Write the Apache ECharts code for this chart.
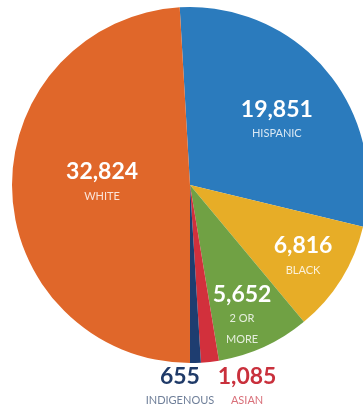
<!DOCTYPE html>
<html>
<head>
<meta charset="utf-8">
<script src="https://cdn.jsdelivr.net/npm/echarts@6/dist/echarts.min.js"></script>
<style>
  html, body { margin: 0; padding: 0; background: #ffffff; }
  #chart { width: 363px; height: 407px; }
</style>
</head>
<body>
<div id="chart"></div>
<script>
// Enrollment by race / ethnicity
const categories = ['HISPANIC', 'BLACK', '2 OR\nMORE', 'ASIAN', 'INDIGENOUS', 'WHITE'];
const values = [19851, 6816, 5652, 1085, 655, 32824];
const sliceColors = ['#2b7bbd', '#e7ad27', '#70a144', '#d2303c', '#1e3d70', '#e0672a'];

// label styling per slice (inside labels are white, outside labels take the slice colour)
const numberColors = ['#ffffff', '#ffffff', '#ffffff', '#c9303c', '#1f3a68', '#ffffff'];
const captionColors = ['rgba(255,255,255,0.82)', 'rgba(255,255,255,0.82)', 'rgba(255,255,255,0.82)',
                       '#d9707a', '#6f7f99', 'rgba(255,255,255,0.82)'];
// label anchor: distance from centre as a share of the radius, and a small turn off the slice's mid angle
const labelRadius = [0.608, 0.753, 0.792, 1.182, 1.139, 0.494];
const labelTurn = [3.25, 0.6, 2.9, -9.3, 4.6, 2.96];

const CX = 190, CY = 185, R = 178;
const total = values.reduce((a, b) => a + b, 0);
// first slice begins just left of twelve o'clock so the last one closes at six o'clock
const startOffset = -3.32;

function midAngle(i) {
  let before = 0;
  for (let k = 0; k < i; k++) before += values[k];
  return startOffset + 360 * (before + values[i] / 2) / total;
}

const fmt = v => v.toLocaleString('en-US');

const chart = echarts.init(document.getElementById('chart'), null, { renderer: 'canvas' });

chart.setOption({
  backgroundColor: '#ffffff',
  animation: false,
  series: [{
    type: 'pie',
    center: [CX, CY],
    radius: [0, R],
    startAngle: 90 - startOffset,
    clockwise: true,
    avoidLabelOverlap: false,
    itemStyle: { borderWidth: 0 },
    labelLine: { show: false },
    emphasis: { disabled: true },
    data: categories.map((name, i) => ({
      name: name,
      value: values[i],
      itemStyle: { color: sliceColors[i] },
      label: {
        show: true,
        position: 'inside',
        formatter: '{v|' + fmt(values[i]) + '}\n' +
          name.split('\n').map(line => '{n|' + line + '}').join('\n'),
        rich: {
          v: {
            fontFamily: 'Lato', fontWeight: 'bold', fontSize: 23,
            lineHeight: 26, color: numberColors[i], align: 'center'
          },
          n: {
            fontFamily: 'Lato', fontSize: 11,
            lineHeight: i === 2 ? 21 : 22, color: captionColors[i], align: 'center'
          }
        }
      }
    })),
    labelLayout: function (params) {
      const i = params.dataIndex;
      const a = (midAngle(i) + labelTurn[i]) * Math.PI / 180;
      const d = labelRadius[i] * R;
      return {
        x: CX + d * Math.sin(a),
        y: CY - d * Math.cos(a),
        align: 'center',
        verticalAlign: 'middle',
        hideOverlap: false
      };
    }
  }]
});
</script>
</body>
</html>
